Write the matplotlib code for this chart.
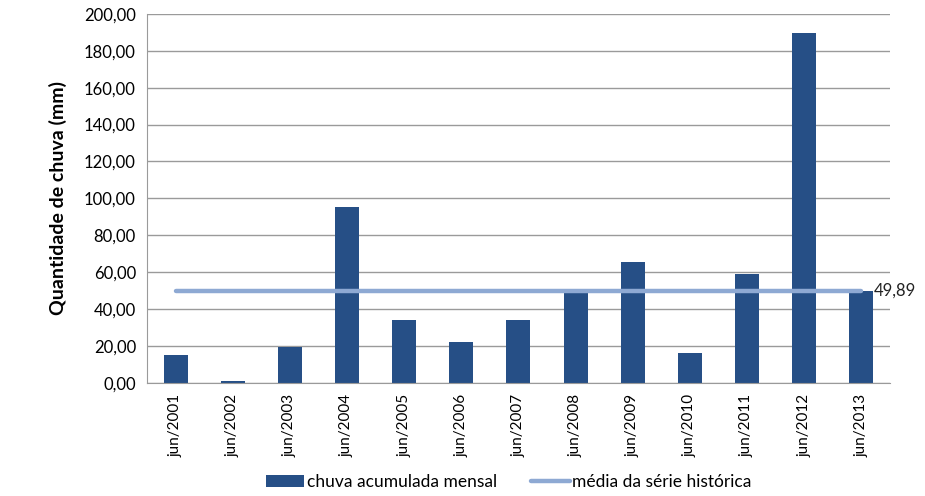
import matplotlib.pyplot as plt
import numpy as np
from matplotlib.ticker import FuncFormatter

# monthly accumulated rain in June, per year
years = ["jun/2001", "jun/2002", "jun/2003", "jun/2004", "jun/2005", "jun/2006", "jun/2007",
         "jun/2008", "jun/2009", "jun/2010", "jun/2011", "jun/2012", "jun/2013"]
rain = [15.2, 1.0, 19.6, 95.4, 34.0, 22.0, 34.0, 49.2, 65.6, 16.0, 59.0, 189.8, 49.9]
mean_hist = 49.89

plt.rcParams['font.family'] = ['Lato', 'DejaVu Sans']

fig = plt.figure(figsize=(9.25, 4.96), dpi=100)
ax = fig.add_axes([0.159, 0.228, 0.803, 0.744])

x = np.arange(len(years))
bars = ax.bar(x, rain, width=0.42, color="#264F86", label="chuva acumulada mensal", zorder=2)
line, = ax.plot([x[0], x[-1]], [mean_hist, mean_hist], color="#8EA9D3", lw=3.2,
                solid_capstyle="round", label="média da série histórica", zorder=3)
ax.text(x[-1] + 0.22, mean_hist, "49,89", fontsize=12, va="center", ha="left", color="#222222")

ax.set_xlim(-0.5, len(years) - 0.5)
ax.set_ylim(0, 200)
ax.set_yticks(np.arange(0, 201, 20))
ax.yaxis.set_major_formatter(FuncFormatter(lambda v, p: f"{v:.2f}".replace(".", ",")))
ax.set_xticks(x)
ax.set_xticklabels(years, rotation=90, fontsize=11)
ax.tick_params(axis="y", labelsize=12, length=0, pad=8)
ax.tick_params(axis="x", length=0, pad=8)
ax.grid(axis="y", color="#9a9a9a", lw=1, zorder=0)
for s in ["top", "right"]:
    ax.spines[s].set_visible(False)
ax.spines["left"].set_color("#9a9a9a")
ax.spines["bottom"].set_color("#9a9a9a")

ax.set_ylabel("Quantidade de chuva (mm)", fontsize=14, fontweight="bold", labelpad=12)

fig.legend([bars, line], ["chuva acumulada mensal", "média da série histórica"],
           loc="lower center", bbox_to_anchor=(0.55, -0.02), ncol=2, frameon=False,
           fontsize=12.5, handlelength=2.2, handletextpad=0.15, columnspacing=2.0)

plt.savefig("out.png")
